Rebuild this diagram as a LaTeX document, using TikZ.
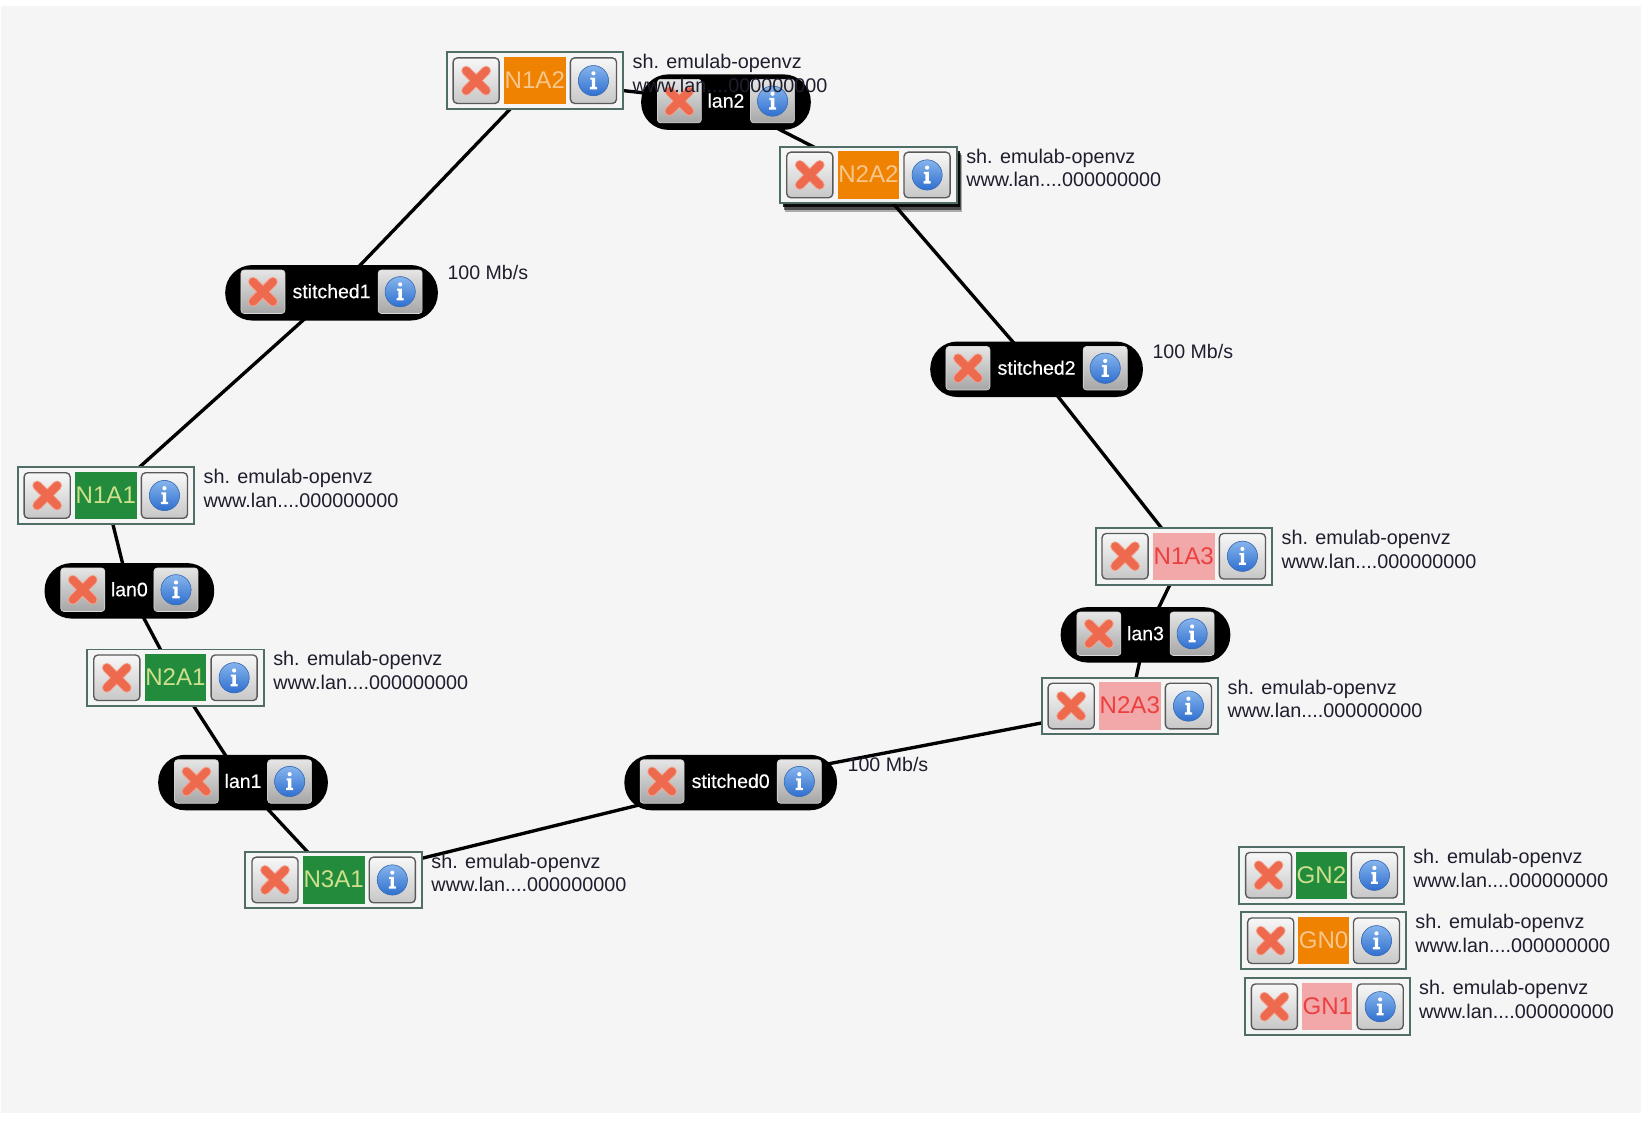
\documentclass[tikz,border=0pt]{standalone}
\usepackage{fontspec}
\setmainfont{Liberation Sans}
\newfontfamily\pillfont[FakeBold=0.4]{Liberation Sans}
\usetikzlibrary{shadows}
\definecolor{grF}{HTML}{228B3C}\definecolor{grT}{HTML}{CFE08C}
\definecolor{orF}{HTML}{EF8200}\definecolor{orT}{HTML}{F6C68C}
\definecolor{piF}{HTML}{F2A8A8}\definecolor{piT}{HTML}{EC4040}
\definecolor{paper}{HTML}{F5F5F5}
\definecolor{frameC}{HTML}{4F6E68}
\definecolor{ink}{HTML}{1E1E2E}
\definecolor{crossIn}{HTML}{EE6A4E}
\definecolor{crossOut}{HTML}{F3A592}
\definecolor{infoTop}{HTML}{86B4EC}
\definecolor{infoBot}{HTML}{2F6FCF}
\definecolor{infoRim}{HTML}{3E74BE}
\pgfdeclarelayer{bg}\pgfdeclarelayer{edges}
\pgfsetlayers{bg,edges,main}
\tikzset{
  x=1pt,y=-1pt,
  hostframe/.style={draw=frameC,line width=1.9pt,fill=paper,minimum height=54pt,inner sep=0pt},
  hostbtn/.style={draw=black!65,line width=1.3pt,rounded corners=4pt,top color=white!97!black,bottom color=black!22,
    minimum width=44pt,minimum height=43.5pt,inner sep=0pt},
  pillbtn/.style={draw=black!15,line width=.6pt,rounded corners=3pt,top color=white!90!black,bottom color=black!35,
    minimum width=42pt,minimum height=41.5pt,inner sep=0pt},
  colourcell/.style={minimum height=45pt,inner sep=0pt,font=\fontsize{23}{24}\selectfont},
  infotext/.style={anchor=west,inner sep=0pt,align=left,text=ink,font=\fontsize{18.9}{22.6}\selectfont},
  pillbody/.style={fill=black,rounded corners=26pt,minimum height=53pt,inner sep=0pt},
  pilltext/.style={text=white,inner sep=0pt,font=\pillfont\fontsize{18.6}{20}\selectfont},
  ratetext/.style={anchor=west,inner sep=0pt,text=ink,font=\fontsize{18.7}{20}\selectfont},
  link/.style={line width=3.2pt,draw=black},
  softshadow/.style={
    drop shadow={shadow xshift=5pt,shadow yshift=-8pt,draw=none,fill=black,opacity=.3},
    drop shadow={shadow xshift=4pt,shadow yshift=-6pt,draw=none,fill=black,opacity=.55},
    drop shadow={shadow xshift=3pt,shadow yshift=-4pt,draw=none,fill=black,opacity=.85}},
}
% delete and info glyphs
\newcommand{\crossmark}[1]{%
  \draw[line width=9.4pt,line cap=round,draw=crossOut] ([shift={(-9.5,-9.5)}]#1.center)--([shift={(9.5,9.5)}]#1.center) ([shift={(-9.5,9.5)}]#1.center)--([shift={(9.5,-9.5)}]#1.center);
  \draw[line width=7.6pt,line cap=round,draw=crossIn] ([shift={(-9.5,-9.5)}]#1.center)--([shift={(9.5,9.5)}]#1.center) ([shift={(-9.5,9.5)}]#1.center)--([shift={(9.5,-9.5)}]#1.center);
}
\newcommand{\infomark}[1]{%
  \fill[top color=infoTop,bottom color=infoBot,draw=infoRim,line width=.6pt] (#1.center) circle (14.4pt);
  \fill[white] ([shift={(0,-7)}]#1.center) circle (2pt);
  \fill[white] ([shift={(-3,-3)}]#1.center) -- ([shift={(1.6,-3)}]#1.center) -- ([shift={(1.6,6)}]#1.center) -- ([shift={(3.4,6)}]#1.center) -- ([shift={(3.4,8.2)}]#1.center) -- ([shift={(-3.4,8.2)}]#1.center) -- ([shift={(-3.4,6)}]#1.center) -- ([shift={(-1.6,6)}]#1.center) -- ([shift={(-1.6,-1)}]#1.center) -- ([shift={(-3,-1)}]#1.center) -- cycle;
}
% \hostnode{name}{x}{y}{frame width}{button offset}{cell width}{colour prefix}{extra frame options}
\newcommand{\hostnode}[8]{%
  \node[hostframe,minimum width=#4pt,#8] (#1) at (#2,#3) {};
  \node[hostbtn] (#1x) at ([xshift=-#5pt]#1.center) {};
  \node[hostbtn] (#1i) at ([xshift=#5pt]#1.center) {};
  \crossmark{#1x}\infomark{#1i}
  \node[colourcell,minimum width=#6pt,fill=#7F,text=#7T] (#1c) at (#1.center) {\raisebox{1pt}{#1}};
  \node[infotext] (#1t) at ([xshift=8pt,yshift=6.8pt]#1.east) {sh. emulab-openvz\\www.lan....000000000};
}
% \pillnode{name}{x}{y}{width}{button offset}{label}
\newcommand{\pillnode}[6]{%
  \node[pillbody,minimum width=#4pt] (#1) at (#2,#3) {};
  \node[pillbtn] (#1x) at ([xshift=-#5pt,yshift=1pt]#1.center) {};
  \node[pillbtn] (#1i) at ([xshift=#5pt,yshift=1pt]#1.center) {};
  \crossmark{#1x}\infomark{#1i}
  \node[pilltext] (#1l) at ([yshift=1.5pt]#1.center) {#6};
}
\begin{document}
\begin{tikzpicture}
\useasboundingbox (0,0) rectangle (1568.4,1073);
\begin{pgfonlayer}{bg}
  \fill[white] (0,0) rectangle (1568.4,1073);
  \fill[paper] (1,6) rectangle (1566,1062);
\end{pgfonlayer}
% the lan2 oval lies under the text of N1A2
\pillnode{lan2}{693}{97.5}{162}{44.5}{lan2}
% hosts
\hostnode{N1A2}{510.5}{77}{168.5}{56}{59}{or}{}
\hostnode{N2A2}{829}{167}{168.5}{56}{59}{or}{softshadow}
\hostnode{N1A1}{101}{473}{168.5}{56}{59}{gr}{}
\hostnode{N2A1}{167.5}{647}{168.5}{56}{59}{gr}{}
\hostnode{N3A1}{318.5}{840}{168.5}{56}{59}{gr}{}
\hostnode{N1A3}{1130}{531}{168.5}{56}{59}{pi}{}
\hostnode{N2A3}{1078.5}{674}{168.5}{56}{59}{pi}{}
\hostnode{GN2}{1261.5}{835.5}{157}{50.5}{48}{gr}{}
\hostnode{GN0}{1263.5}{898}{157}{50.5}{48}{or}{}
\hostnode{GN1}{1267}{961}{157}{50.5}{48}{pi}{}
% links and rates
\pillnode{stitched1}{316.5}{279.5}{203}{65.5}{stitched1}
\pillnode{stitched2}{989.5}{352.5}{203}{65.5}{stitched2}
\pillnode{lan0}{123.5}{564}{162}{44.5}{lan0}
\pillnode{lan1}{232}{747}{162}{44.5}{lan1}
\pillnode{stitched0}{697.5}{747}{203}{65.5}{stitched0}
\pillnode{lan3}{1093.5}{606}{162}{44.5}{lan3}
\node[ratetext] (rate1) at (427,260.5) {100 Mb/s};
\node[ratetext] (rate2) at (1100,335.5) {100 Mb/s};
\node[ratetext] (rate0) at (809,729.5) {100 Mb/s};
\begin{pgfonlayer}{edges}
  \draw[link] ([xshift=2.5pt]N1A2.center)--([xshift=2pt]stitched1.center);
  \draw[link] ([xshift=2pt]stitched1.center)--([xshift=2pt]N1A1.center);
  \draw[link] (N1A1.center)--(lan0.center);
  \draw[link] (lan0.center)--(N2A1.center);
  \draw[link] (N2A1.center)--(lan1.center);
  \draw[link] (lan1.center)--(N3A1.center);
  \draw[link] (N3A1.center)--(stitched0.center);
  \draw[link] (stitched0.center)--(N2A3.center);
  \draw[link] (N2A3.center)--(lan3.center);
  \draw[link] (lan3.center)--(N1A3.center);
  \draw[link] (N1A3.center)--(stitched2.center);
  \draw[link] (stitched2.center)--(N2A2.center);
  \draw[link] (N2A2.center)--(lan2.center);
  \draw[link] (lan2.center)--(N1A2.center);
\end{pgfonlayer}
\end{tikzpicture}
\end{document}
